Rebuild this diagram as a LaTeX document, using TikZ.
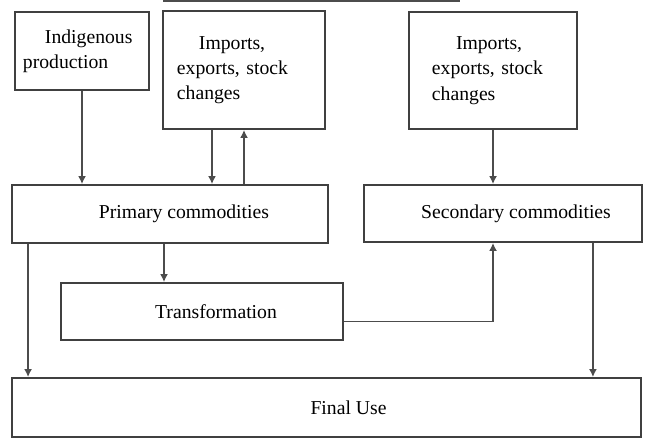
\documentclass[tikz,border=0pt]{standalone}
\usepackage{fontspec}
\setmainfont{Liberation Serif}
\usetikzlibrary{arrows.meta}
\begin{document}
\begin{tikzpicture}[x=0.025cm,y=-0.025cm,
        box/.style={draw=black!75,line width=1.3pt,fill=white,inner sep=0pt,
            font=\fontsize{14}{18}\selectfont},
        flow/.style={draw=black!70,line width=1.3pt,-{Latex[length=2mm,width=2mm]}}]
        \useasboundingbox (0,0) rectangle (648,439);
        \draw[black!70,line width=1.2pt] (163,1) -- (460,1);
        %% sources
        \node[box,minimum width=3.35cm,minimum height=1.95cm,text width=2.95cm,align=left]
            (indig) at (82,51) {\hspace*{0.55cm}Indigenous\\production};
        \node[box,minimum width=4.05cm,minimum height=2.95cm,text width=3.35cm,align=left]
            (imp1) at (244,70) {\hspace*{0.55cm}Imports,\\exports, stock\\changes};
        \node[box,minimum width=4.2cm,minimum height=2.925cm,text width=3.05cm,align=left]
            (imp2) at (493,70.5) {\hspace*{0.6cm}Imports,\\exports, stock\\changes};
        %% commodities
        \node[box,minimum width=7.9cm,minimum height=1.45cm] (prim) at (170,214)
            {\hspace*{0.7cm}Primary commodities};
        \node[box,minimum width=6.95cm,minimum height=1.425cm] (sec) at (503,213.5)
            {\hspace*{0.65cm}Secondary commodities};
        \node[box,minimum width=7.05cm,minimum height=1.425cm] (trans) at (202,311.5)
            {\hspace*{0.7cm}Transformation};
        \node[box,minimum width=15.725cm,minimum height=1.475cm] (final) at (326.5,407.5)
            {\hspace*{1.1cm}Final Use};
        %% flows
        \coordinate (impdn) at ([xshift=-0.8cm]imp1.south);
        \coordinate (totrans) at ([xshift=-0.15cm]prim.south);
        \coordinate (primuse) at ([xshift=0.425cm]prim.south west);
        \coordinate (secuse) at ([xshift=-1.25cm]sec.south east);
        \draw[flow] (indig) -- (indig |- prim.north);
        \draw[flow] (impdn) -- (impdn |- prim.north);
        \draw[flow] (imp1 |- prim.north) -- (imp1.south);
        \draw[flow] (imp2) -- (imp2 |- sec.north);
        \draw[flow] (totrans) -- (totrans |- trans.north);
        \draw[flow] ([yshift=-0.25cm]trans.east) -| (imp2 |- sec.south);
        \draw[flow] (primuse) -- (primuse |- final.north);
        \draw[flow] (secuse) -- (secuse |- final.north);
    \end{tikzpicture}
\end{document}
